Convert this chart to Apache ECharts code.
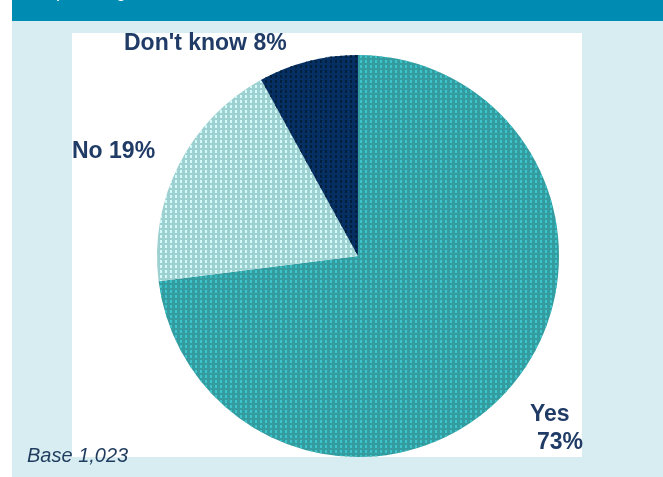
<!DOCTYPE html>
<html>
<head>
<meta charset="utf-8">
<script src="https://cdn.jsdelivr.net/npm/echarts@6/dist/echarts.min.js"></script>
<style>
  html, body { margin: 0; padding: 0; background: #ffffff; }
  #chart { width: 663px; height: 477px; }
</style>
</head>
<body>
<div id="chart"></div>
<script>
// Survey answers and their shares (%)
const categories = ["Yes", "No", "Don't know"];
const shares = [73, 19, 8];
const baseNote = "Base 1,023";
const headerTitle = "Shop trading hours";

// Fill colours and dither dots for each slice
const sliceColors = ["#349c9f", "#9dd0d0", "#063064"];
const dotColors = ["#3cc4cc", "#d4fafa", "#01203c"];

const labelPos = [
  { x: 530, y: 401 },
  { x: 72, y: 138 },
  { x: 124, y: 30 }
];

const chart = echarts.init(document.getElementById('chart'), null, { renderer: 'canvas' });

const data = categories.map((name, i) => ({
  name: name,
  value: shares[i],
  itemStyle: {
    color: sliceColors[i],
    decal: {
      symbol: 'rect',
      symbolSize: 1,
      color: dotColors[i],
      dashArrayX: [2, 2.4],
      dashArrayY: [3, 1.4],
      rotation: 0
    }
  }
}));

const labelFont = { fontFamily: 'Liberation Sans', fontWeight: 'bold', fontSize: 23, color: '#1f3b66', lineHeight: 28 };

chart.setOption({
  animation: false,
  backgroundColor: '#ffffff',
  graphic: [
    { type: 'rect', z: -10, shape: { x: 12, y: 0, width: 651, height: 477 }, style: { fill: '#d8edf2' } },
    { type: 'rect', z: -9, shape: { x: 12, y: 0, width: 651, height: 21 }, style: { fill: '#008bb2' } },
    { type: 'rect', z: -9, shape: { x: 72, y: 33, width: 510, height: 424 }, style: { fill: '#ffffff' } },
    {
      type: 'text', z: 5, left: 24, top: -16.5,
      style: { text: headerTitle, fill: '#ffffff', font: '300 18px "Liberation Sans", sans-serif' }
    },
    {
      type: 'text', z: 5, left: 27, top: 446,
      style: { text: baseNote, fill: '#1f3c5e', font: 'italic 20px "Liberation Sans", sans-serif' }
    }
  ],
  series: [{
    type: 'pie',
    center: [358, 256],
    radius: 201,
    startAngle: 90,
    clockwise: true,
    avoidLabelOverlap: false,
    data: data,
    itemStyle: { borderWidth: 0 },
    emphasis: { disabled: true },
    labelLine: { show: false },
    label: {
      show: true,
      position: 'outside',
      formatter: function (p) {
        if (p.dataIndex === 0) return '{a|' + p.name + '}\n{b|' + p.value + '%}';
        return '{a|' + p.name + ' ' + p.value + '%}';
      },
      rich: {
        a: labelFont,
        b: Object.assign({}, labelFont, { padding: [0, 0, 0, 7] })
      }
    },
    labelLayout: function (params) {
      const p = labelPos[params.dataIndex];
      return { x: p.x, y: p.y, align: 'left', verticalAlign: 'top' };
    }
  }]
});
</script>
</body>
</html>
